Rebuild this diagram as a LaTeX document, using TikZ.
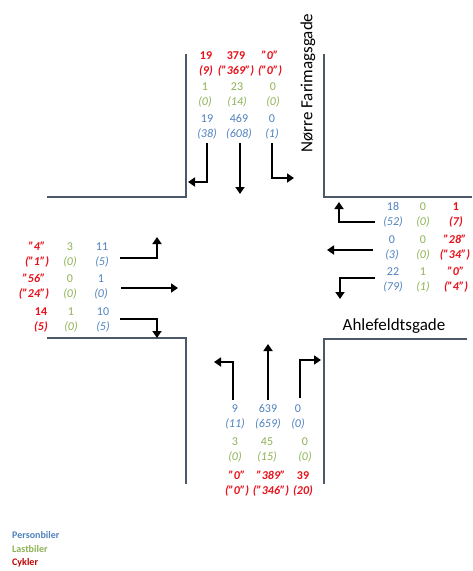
\documentclass[tikz,border=0pt]{standalone}
\usepackage{fontspec}
\setmainfont{Carlito}
\usetikzlibrary{arrows.meta}
\definecolor{pbblue}{HTML}{4F81BD}
\definecolor{lbgreen}{HTML}{8DB255}
\definecolor{cykred}{HTML}{E8101A}
\definecolor{cykdark}{HTML}{C00000}
\definecolor{road}{HTML}{4A5868}
\newcommand{\cnt}[2]{#1\\\textit{(#2)}}

\begin{document}
\begin{tikzpicture}[
  x=1pt, y=-1pt,
  >={Triangle[length=7pt, width=9pt]},
  roadline/.style={road, line width=2.4pt},
  turn/.style={->, black, line width=2.8pt},
  count/.style={align=center, inner sep=0pt, font=\fontsize{12}{15}\selectfont},
  pb/.style={count, pbblue},
  lb/.style={count, lbgreen},
  cyk/.style={count, cykred, font=\fontsize{12}{15}\selectfont\bfseries},
  street/.style={font=\fontsize{17}{19}\selectfont},
  legend/.style={anchor=west, inner sep=0pt, font=\fontsize{10}{12}\selectfont\bfseries}
]

% Frame
\useasboundingbox (0,0) rectangle (472,571);

% ── Road edges ──
\draw[roadline] (186,54) -- (186,197) -- (47,197);
\draw[roadline] (324,54) -- (324,197) -- (472,197);
\draw[roadline] (47,338) -- (186,338) -- (186,484);
\draw[roadline] (467,339) -- (324,339) -- (324,484);

% ── Street names ──
\node[street, rotate=90] (nfg) at (308,83) {Nørre Farimagsgade};
\node[street] (afg) at (394,326) {Ahlefeldtsgade};

% ── Counts from north ──
\node[cyk] (n-cyk-l) at (206,64) {\cnt{19}{9}};
\node[cyk] (n-cyk-m) at (236,64) {\cnt{379}{"369"}};
\node[cyk] (n-cyk-r) at (270,64) {\cnt{\textit{"0"}}{"0"}};
\node[lb] (n-lb-l) at (205,95) {\cnt{1}{0}};
\node[lb] (n-lb-m) at (237,95) {\cnt{23}{14}};
\node[lb] (n-lb-r) at (273,95) {\cnt{0}{0}};
\node[pb] (n-pb-l) at (207,127) {\cnt{19}{38}};
\node[pb] (n-pb-m) at (239,127) {\cnt{469}{608}};
\node[pb] (n-pb-r) at (272,127) {\cnt{0}{1}};

% ── Counts from east ──
\node[pb] (e-pb-t) at (393,215) {\cnt{18}{52}};
\node[pb] (e-pb-m) at (392,248) {\cnt{0}{3}};
\node[pb] (e-pb-b) at (393,280) {\cnt{22}{79}};
\node[lb] (e-lb-t) at (423,215) {\cnt{0}{0}};
\node[lb] (e-lb-m) at (423,248) {\cnt{0}{0}};
\node[lb] (e-lb-b) at (423,280) {\cnt{1}{1}};
\node[cyk] (e-cyk-t) at (456,215) {\cnt{1}{7}};
\node[cyk] (e-cyk-m) at (455,248) {\cnt{\textit{"28"}}{"34"}};
\node[cyk] (e-cyk-b) at (456,280) {\cnt{\textit{"0"}}{"4"}};

% ── Counts from west ──
\node[cyk] (w-cyk-t) at (37,255) {\cnt{\textit{"4"}}{"1"}};
\node[cyk] (w-cyk-m) at (34,287) {\cnt{\textit{"56"}}{"24"}};
\node[cyk] (w-cyk-b) at (41,320) {\cnt{14}{5}};
\node[lb] (w-lb-t) at (70,255) {\cnt{3}{0}};
\node[lb] (w-lb-m) at (70,287) {\cnt{0}{0}};
\node[lb] (w-lb-b) at (71,320) {\cnt{1}{0}};
\node[pb] (w-pb-t) at (102,255) {\cnt{11}{5}};
\node[pb] (w-pb-m) at (101,287) {\cnt{1}{0}};
\node[pb] (w-pb-b) at (103,320) {\cnt{10}{5}};

% ── Counts from south ──
\node[pb] (s-pb-l) at (235,417) {\cnt{9}{11}};
\node[pb] (s-pb-m) at (268,417) {\cnt{639}{659}};
\node[pb] (s-pb-r) at (298,417) {\cnt{0}{0}};
\node[lb] (s-lb-l) at (235,450) {\cnt{3}{0}};
\node[lb] (s-lb-m) at (267,450) {\cnt{45}{15}};
\node[lb] (s-lb-r) at (305,450) {\cnt{0}{0}};
\node[cyk] (s-cyk-l) at (237,484) {\cnt{\textit{"0"}}{"0"}};
\node[cyk] (s-cyk-m) at (271,484) {\cnt{\textit{"389"}}{"346"}};
\node[cyk] (s-cyk-r) at (303,484) {\cnt{39}{20}};

% ── Turn arrows ──
\coordinate (n-l-a) at (207,143); \coordinate (n-l-b) at (188,182);
\coordinate (n-m-a) at (240,143); \coordinate (n-m-b) at (240,194);
\coordinate (n-r-a) at (272,143); \coordinate (n-r-b) at (294,178);
\draw[turn] (n-l-a) |- (n-l-b);
\draw[turn] (n-m-a) -- (n-m-b);
\draw[turn] (n-r-a) |- (n-r-b);

\coordinate (e-t-a) at (375,222); \coordinate (e-t-b) at (339,202);
\coordinate (e-m-a) at (373,250); \coordinate (e-m-b) at (327,250);
\coordinate (e-b-a) at (375,278); \coordinate (e-b-b) at (340,299);
\draw[turn] (e-t-a) -| (e-t-b);
\draw[turn] (e-m-a) -- (e-m-b);
\draw[turn] (e-b-a) -| (e-b-b);

\coordinate (w-t-a) at (120,258); \coordinate (w-t-b) at (157,237);
\coordinate (w-m-a) at (121,288); \coordinate (w-m-b) at (178,288);
\coordinate (w-b-a) at (120,319); \coordinate (w-b-b) at (157,338);
\draw[turn] (w-t-a) -| (w-t-b);
\draw[turn] (w-m-a) -- (w-m-b);
\draw[turn] (w-b-a) -| (w-b-b);

\coordinate (s-l-a) at (233,400); \coordinate (s-l-b) at (214,362);
\coordinate (s-m-a) at (268,400); \coordinate (s-m-b) at (268,344);
\coordinate (s-r-a) at (300,398); \coordinate (s-r-b) at (321,360);
\draw[turn] (s-l-a) |- (s-l-b);
\draw[turn] (s-m-a) -- (s-m-b);
\draw[turn] (s-r-a) |- (s-r-b);

% ── Legend ──
\node[legend, pbblue] (leg-pb) at (12,535) {Personbiler};
\node[legend, lbgreen] (leg-lb) at (12,549) {Lastbiler};
\node[legend, cykdark] (leg-cyk) at (12,563) {Cykler};

\end{tikzpicture}
\end{document}
